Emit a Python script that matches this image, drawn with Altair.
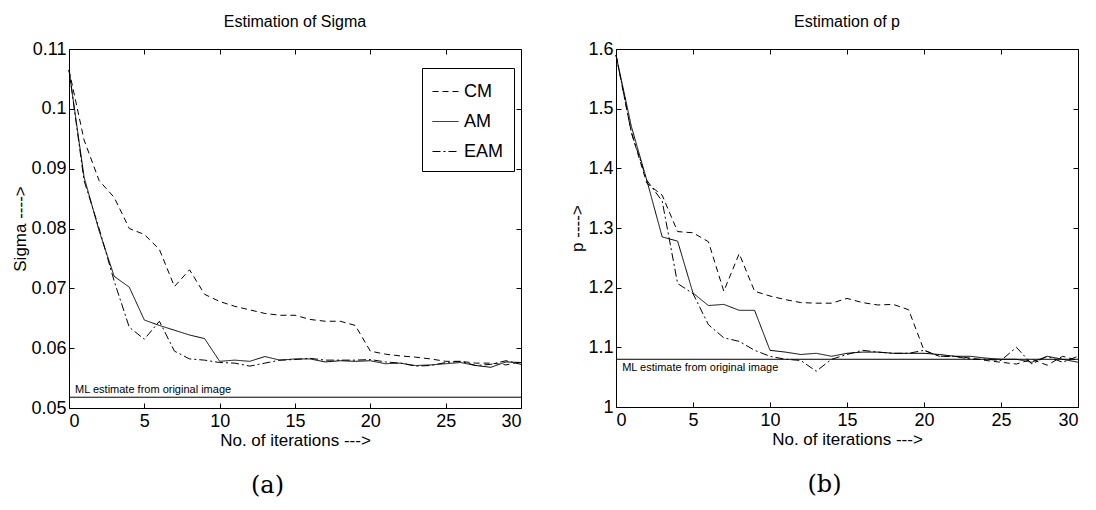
import altair as alt
import pandas as pd

iters = list(range(31))
methods = ["CM", "AM", "EAM"]

sigma_cm = [0.1065, 0.0948, 0.0880, 0.0852, 0.0800, 0.0790, 0.0765, 0.0703, 0.0731, 0.0690, 0.0678,
            0.0670, 0.0664, 0.0658, 0.0655, 0.0655, 0.0648, 0.0645, 0.0645, 0.0638, 0.0595,
            0.0590, 0.0587, 0.0585, 0.0582, 0.0578, 0.0578, 0.0575, 0.0575, 0.0572, 0.0577]
sigma_am = [0.1065, 0.0886, 0.0796, 0.0720, 0.0702, 0.0647, 0.0638, 0.0630, 0.0622, 0.0616, 0.0578,
            0.0580, 0.0578, 0.0586, 0.0580, 0.0582, 0.0582, 0.0577, 0.0579, 0.0578, 0.0579,
            0.0574, 0.0575, 0.0571, 0.0572, 0.0574, 0.0576, 0.0571, 0.0568, 0.0577, 0.0576]
sigma_eam = [0.1065, 0.0880, 0.0800, 0.0712, 0.0635, 0.0615, 0.0645, 0.0595, 0.0582, 0.0580, 0.0576,
             0.0575, 0.0570, 0.0575, 0.0580, 0.0581, 0.0583, 0.0580, 0.0580, 0.0580, 0.0581,
             0.0577, 0.0575, 0.0570, 0.0571, 0.0576, 0.0578, 0.0571, 0.0573, 0.0579, 0.0573]

p_cm = [1.59, 1.46, 1.375, 1.355, 1.294, 1.292, 1.277, 1.194, 1.257, 1.194, 1.186,
        1.180, 1.175, 1.174, 1.174, 1.182, 1.175, 1.171, 1.172, 1.163, 1.095,
        1.085, 1.085, 1.082, 1.078, 1.075, 1.072, 1.080, 1.070, 1.085, 1.078]
p_am = [1.59, 1.47, 1.38, 1.285, 1.278, 1.191, 1.170, 1.172, 1.162, 1.162, 1.095,
        1.092, 1.088, 1.090, 1.085, 1.090, 1.092, 1.092, 1.090, 1.090, 1.090,
        1.088, 1.085, 1.085, 1.082, 1.080, 1.080, 1.075, 1.085, 1.080, 1.075]
p_eam = [1.59, 1.46, 1.38, 1.345, 1.207, 1.190, 1.138, 1.116, 1.110, 1.095, 1.085,
         1.080, 1.078, 1.060, 1.080, 1.088, 1.095, 1.092, 1.090, 1.090, 1.095,
         1.085, 1.085, 1.080, 1.080, 1.078, 1.100, 1.072, 1.085, 1.075, 1.085]

ml_sigma = 0.0518
ml_p = 1.08
ml_label = "ML estimate from original image"

x_ticks = [0, 5, 10, 15, 20, 25, 30]
sigma_ticks = [0.05, 0.06, 0.07, 0.08, 0.09, 0.1, 0.11]
p_ticks = [1.0, 1.1, 1.2, 1.3, 1.4, 1.5, 1.6]
dashes = [[6, 4], [1, 0], [8, 3, 2, 3]]

FONT = "Liberation Sans"


def long_df(series):
    rows = []
    for m, vals in zip(methods, series):
        for i, v in zip(iters, vals):
            rows.append({"iter": i, "value": v, "method": m})
    return pd.DataFrame(rows)


def tick_axis(orient, values):
    return alt.Axis(orient=orient, offset=-5, domain=False, labels=False, ticks=True,
                    tickSize=5, tickColor="black", tickWidth=1, grid=False, title=None,
                    values=values)


def panel(series, ydom, yticks, ytitle, title, ml, text_above, legend_xy, w, h, caption):
    df = long_df(series)
    one = pd.DataFrame({"ml": [ml]})
    xs = alt.Scale(domain=[0, 30], nice=False, zero=False)
    ys = alt.Scale(domain=ydom, nice=False, zero=False)
    lines = alt.Chart(df).mark_line(color="black", strokeWidth=1).encode(
        x=alt.X("iter:Q", scale=xs,
                axis=alt.Axis(orient="bottom", values=x_ticks, title="No. of iterations --->",
                              domain=False, ticks=False, grid=False, labelPadding=4,
                              titlePadding=2)),
        y=alt.Y("value:Q", scale=ys,
                axis=alt.Axis(orient="left", values=yticks, format="~g", title=ytitle,
                              domain=False, ticks=False, grid=False, labelPadding=3,
                              titlePadding=1)),
        strokeDash=alt.StrokeDash(
            "method:N",
            scale=alt.Scale(domain=methods, range=dashes),
            legend=alt.Legend(title=None, orient="none", legendX=legend_xy[0],
                              legendY=legend_xy[1], strokeColor="black", fillColor="white",
                              padding=10, symbolType="stroke", symbolSize=676,
                              symbolStrokeWidth=1, symbolStrokeColor="black",
                              labelFontSize=18, labelFont=FONT, labelColor="black",
                              labelOffset=5, rowPadding=7, cornerRadius=0),
        ),
    )
    rule = alt.Chart(one).mark_rule(color="black", strokeWidth=1).encode(
        x=alt.X(datum=0, type="quantitative", axis=tick_axis("top", x_ticks)),
        x2=alt.X2(datum=30),
        y=alt.Y("ml:Q", axis=tick_axis("right", yticks)),
    )
    text = alt.Chart(one).mark_text(
        align="left", baseline="bottom" if text_above else "top",
        dy=-2 if text_above else 3, fontSize=11, font=FONT, color="black"
    ).encode(
        x=alt.X(datum=0.4, type="quantitative", axis=tick_axis("bottom", x_ticks)),
        y=alt.Y("ml:Q", axis=tick_axis("left", yticks)),
        text=alt.value(ml_label),
    )
    layered = alt.layer(lines, rule, text).resolve_axis(x="independent", y="independent").properties(
        width=w, height=h,
        title=alt.TitleParams(title, fontSize=16, font=FONT, fontWeight="normal",
                              color="black", offset=10, anchor="middle"),
    )
    return alt.vconcat(layered).properties(
        title=alt.TitleParams(caption, orient="bottom", fontSize=24, font="DejaVu Serif",
                              fontWeight="normal", color="black", offset=25, anchor="middle")
    )


left = panel([sigma_cm, sigma_am, sigma_eam], [0.05, 0.11], sigma_ticks, "Sigma ---->",
             "Estimation of Sigma", ml_sigma, True, (353, 19), 452, 359, "(a)")
right = panel([p_cm, p_am, p_eam], [1.0, 1.6], p_ticks, "p ---->",
              "Estimation of p", ml_p, False, (363, 12), 462, 358, "(b)")

chart = alt.hconcat(left, right, spacing=44).properties(
    padding={"left": 3, "top": 5, "right": 5, "bottom": 5}
).configure_view(
    stroke="black", strokeWidth=1
).configure_axis(
    labelFont=FONT, labelFontSize=18, labelColor="black",
    titleFont=FONT, titleFontSize=17, titleFontWeight="normal", titleColor="black"
)

chart.save("out.html", embed_options={"renderer": "svg", "actions": False})
